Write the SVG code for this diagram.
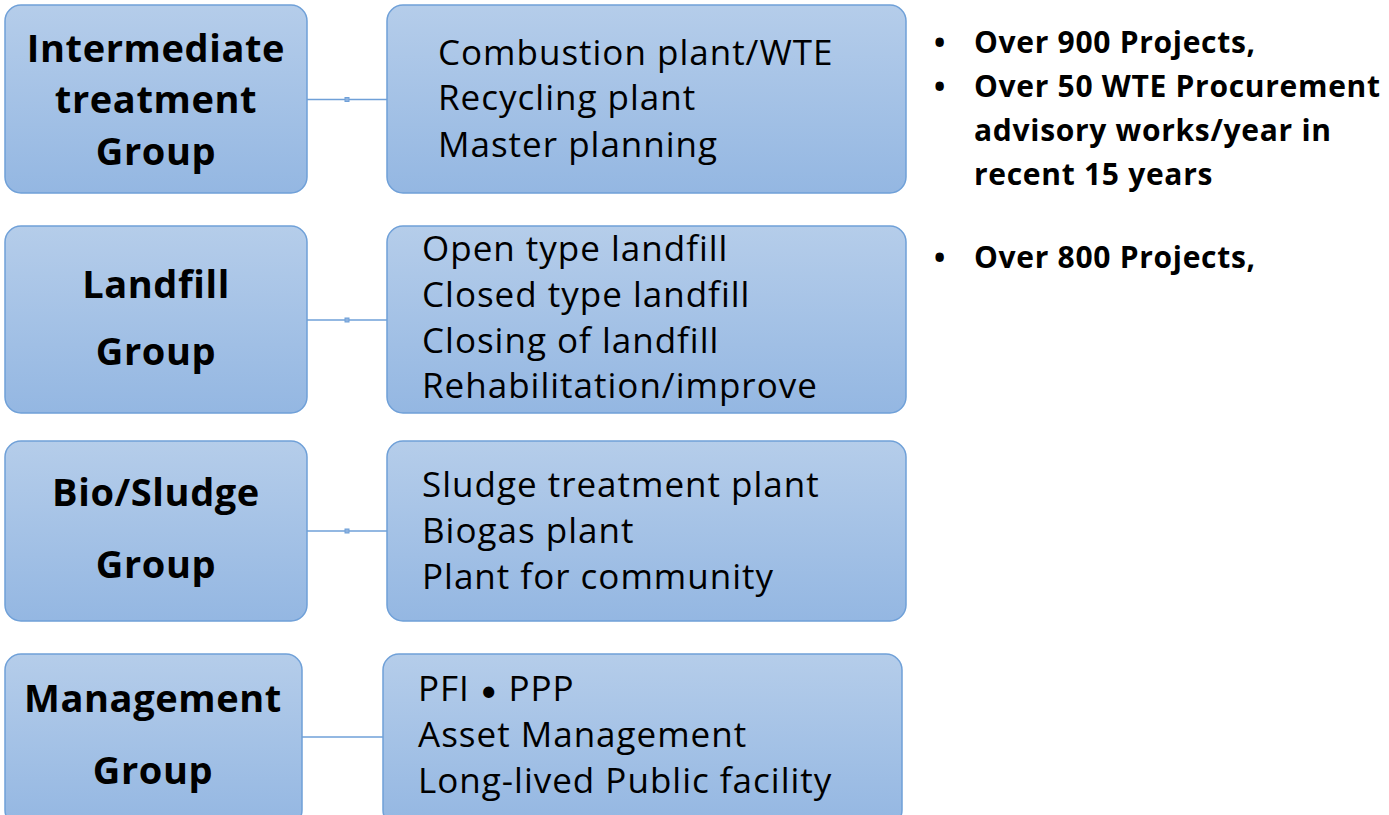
<svg xmlns="http://www.w3.org/2000/svg" width="1389" height="815" viewBox="0 0 1389 815">
<defs>
<linearGradient id="g" x1="0" y1="0" x2="0" y2="1">
<stop offset="0" stop-color="#b5cdea"/>
<stop offset="1" stop-color="#94b7e2"/>
</linearGradient>
<style>
.box{fill:url(#g);stroke:#6fa0d8;stroke-width:1.5}
.h{font-family:"Open Sans",Lato,sans-serif;font-weight:bold;font-size:38px;letter-spacing:0.6px;fill:#000;text-anchor:middle}
.t{font-family:"Open Sans",Lato,sans-serif;font-size:35px;letter-spacing:1px;fill:#000}
.b{font-family:"Open Sans",Lato,sans-serif;font-weight:bold;font-size:30px;letter-spacing:0.7px;fill:#000}
.c{stroke:#6fa0d8;stroke-width:1.5;fill:none}
.sq{fill:#8fb3e0;stroke:#6fa0d8;stroke-width:1}
</style>
</defs>
<rect width="1389" height="815" fill="#fff"/>
<g id="connectors">
<line class="c" x1="307" y1="99.5" x2="387" y2="99.5"/>
<rect class="sq" x="345" y="97.5" width="4" height="4"/>
<line class="c" x1="307" y1="320" x2="387" y2="320"/>
<rect class="sq" x="345" y="318" width="4" height="4"/>
<line class="c" x1="307" y1="531" x2="387" y2="531"/>
<rect class="sq" x="345" y="529" width="4" height="4"/>
<line class="c" x1="302" y1="737" x2="383" y2="737"/>
</g>
<g id="n1">
<rect class="box" x="5" y="5" width="302" height="188" rx="16"/>
<text class="h" x="156" y="62">Intermediate</text>
<text class="h" x="156" y="113">treatment</text>
<text class="h" x="156" y="165">Group</text>
</g>
<g id="n1d">
<rect class="box" x="387" y="5" width="519" height="188" rx="16"/>
<text class="t" x="438" y="65">Combustion plant/WTE</text>
<text class="t" x="438" y="110">Recycling plant</text>
<text class="t" x="438" y="157">Master planning</text>
</g>
<g id="n2">
<rect class="box" x="5" y="226" width="302" height="187" rx="16"/>
<text class="h" x="156" y="298">Landfill</text>
<text class="h" x="156" y="365">Group</text>
</g>
<g id="n2d">
<rect class="box" x="387" y="226" width="519" height="187" rx="16"/>
<text class="t" x="422" y="261">Open type landfill</text>
<text class="t" x="422" y="307">Closed type landfill</text>
<text class="t" x="422" y="353">Closing of landfill</text>
<text class="t" x="422" y="398">Rehabilitation/improve</text>
</g>
<g id="n3">
<rect class="box" x="5" y="441" width="302" height="180" rx="16"/>
<text class="h" x="156" y="506">Bio/Sludge</text>
<text class="h" x="156" y="578">Group</text>
</g>
<g id="n3d">
<rect class="box" x="387" y="441" width="519" height="180" rx="16"/>
<text class="t" x="422" y="497">Sludge treatment plant</text>
<text class="t" x="422" y="543">Biogas plant</text>
<text class="t" x="422" y="589">Plant for community</text>
</g>
<g id="n4">
<rect class="box" x="5" y="654" width="297" height="172" rx="16"/>
<text class="h" x="153" y="712">Management</text>
<text class="h" x="153" y="784">Group</text>
</g>
<g id="n4d">
<rect class="box" x="383" y="654" width="519" height="172" rx="16"/>
<text class="t" x="418" y="701">PFI <tspan font-family="Lato" font-size="30">•</tspan> PPP</text>
<text class="t" x="418" y="747">Asset Management</text>
<text class="t" x="418" y="793">Long-lived Public facility</text>
</g>
<g id="notes">
<text class="b" x="934" y="53" font-size="24">•</text>
<text class="b" x="974" y="53">Over 900 Projects,</text>
<text class="b" x="934" y="97" font-size="24">•</text>
<text class="b" x="974" y="97">Over 50 WTE Procurement</text>
<text class="b" x="974" y="141">advisory works/year in</text>
<text class="b" x="974" y="185">recent 15 years</text>
<text class="b" x="934" y="268" font-size="24">•</text>
<text class="b" x="974" y="268">Over 800 Projects,</text>
</g>
</svg>
